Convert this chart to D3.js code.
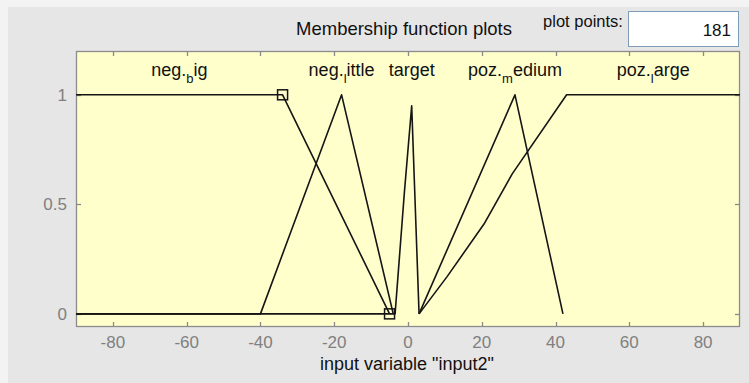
<!DOCTYPE html>
<html>
<head>
<meta charset="utf-8">
<script src="https://cdn.jsdelivr.net/npm/d3@7"></script>
<style>
  html, body { margin: 0; padding: 0; background: #e6e6e6; }
  svg { display: block; }
  text { font-family: "Liberation Sans", Arial, sans-serif; }
</style>
</head>
<body>
<svg id="chart" width="749" height="383"></svg>
<script>
// Input variable range and axis ticks
const xRange = [-90, 90];
const yRange = [-0.06, 1.2];
const xTicks = [-80, -60, -40, -20, 0, 20, 40, 60, 80];
const yTicks = [0, 0.5, 1];
const plotPoints = 181;

// Membership function names (TeX style: "_x" is a subscript)
const mfNames = ["neg._big", "neg._little", "target", "poz._medium", "poz._large"];

// Membership function vertices
const negBigX    = [-90, -34, -5];
const negBigY    = [1, 1, 0];
const negLittleX = [-90, -40, -18, -4];
const negLittleY = [0, 0, 1, 0];
const targetX    = [-90, -3.5, -1, 1, 3];
const targetY    = [0, 0, 0.55, 0.95, 0];
const pozMediumX = [3, 29, 42];
const pozMediumY = [0, 1, 0];
const pozLargeX  = [3, 10.6, 20.6, 28.3, 43, 90];
const pozLargeY  = [0, 0.17, 0.41, 0.64, 1, 1];

// Index of the currently selected membership function
const selectedMf = 0;

const mfX = [negBigX, negLittleX, targetX, pozMediumX, pozLargeX];
const mfY = [negBigY, negLittleY, targetY, pozMediumY, pozLargeY];

const svg = d3.select("#chart");
const W = 749, H = 383;

// Panel background with a light bevel along the top and left edges
svg.append("rect").attr("x", 0).attr("y", 0).attr("width", W).attr("height", H).attr("fill", "#f3f3f3");
svg.append("rect").attr("x", 8).attr("y", 7).attr("width", W - 8).attr("height", H - 7).attr("fill", "#e6e6e6");

const axLeft = 76, axRight = 740, axTop = 51, axBottom = 327;
const x = d3.scaleLinear().domain(xRange).range([axLeft, axRight]);
const y = d3.scaleLinear().domain(yRange).range([axBottom, axTop]);

// Title and plot points box
svg.append("text").attr("x", 404).attr("y", 35).attr("text-anchor", "middle")
  .attr("font-size", 18.5).attr("fill", "#111").text("Membership function plots");
svg.append("text").attr("x", 583).attr("y", 27).attr("text-anchor", "middle")
  .attr("font-size", 16.5).attr("fill", "#111").text("plot points:");
svg.append("rect").attr("x", 628.5).attr("y", 11.5).attr("width", 110).attr("height", 35)
  .attr("fill", "#ffffff").attr("stroke", "#7f9db9").attr("stroke-width", 1);
svg.append("text").attr("x", 731).attr("y", 36).attr("text-anchor", "end")
  .attr("font-size", 17).attr("fill", "#111").text(plotPoints);

// Axes area
svg.append("rect").attr("x", axLeft).attr("y", axTop).attr("width", axRight - axLeft).attr("height", axBottom - axTop)
  .attr("fill", "#ffffcc");

const tickColor = "#8a8a8a";
const tickLen = 5;
const g = svg.append("g");

// x ticks, top and bottom, pointing inward
xTicks.forEach(t => {
  const px = Math.round(x(t)) + 0.5;
  g.append("line").attr("x1", px).attr("x2", px).attr("y1", axBottom).attr("y2", axBottom - tickLen)
    .attr("stroke", tickColor).attr("stroke-width", 1.3);
  g.append("line").attr("x1", px).attr("x2", px).attr("y1", axTop).attr("y2", axTop + tickLen)
    .attr("stroke", tickColor).attr("stroke-width", 1.3);
  g.append("text").attr("x", x(t)).attr("y", 348).attr("text-anchor", "middle")
    .attr("font-size", 17).attr("fill", "#808080").text(t);
});

// y ticks, left and right
yTicks.forEach(t => {
  const py = Math.round(y(t)) + 0.5;
  g.append("line").attr("x1", axLeft).attr("x2", axLeft + tickLen).attr("y1", py).attr("y2", py)
    .attr("stroke", tickColor).attr("stroke-width", 1.3);
  g.append("line").attr("x1", axRight).attr("x2", axRight - tickLen).attr("y1", py).attr("y2", py)
    .attr("stroke", tickColor).attr("stroke-width", 1.3);
  g.append("text").attr("x", 67).attr("y", y(t) + 6).attr("text-anchor", "end")
    .attr("font-size", 17).attr("fill", "#808080").text(t);
});

// Axes border
svg.append("rect").attr("x", axLeft + 0.5).attr("y", axTop + 0.5)
  .attr("width", axRight - axLeft - 1).attr("height", axBottom - axTop - 1)
  .attr("fill", "none").attr("stroke", "#8c8c8c").attr("stroke-width", 1.3);

// Axis label
svg.append("text").attr("x", 407).attr("y", 370).attr("text-anchor", "middle")
  .attr("font-size", 18).attr("fill", "#111").text('input variable "input2"');

// Membership function curves
const line = d3.line().x(d => x(d[0])).y(d => y(d[1]));
mfX.forEach((xs, i) => {
  const pts = xs.map((v, j) => [v, mfY[i][j]]);
  svg.append("path").attr("d", line(pts)).attr("fill", "none")
    .attr("stroke", "#151515").attr("stroke-width", 1.6).attr("stroke-linejoin", "round");
});

// Vertex markers of the selected membership function
{
  const xs = mfX[selectedMf], ys = mfY[selectedMf];
  xs.forEach((v, j) => {
    if (v === xRange[0] || v === xRange[1]) return;
    svg.append("rect").attr("x", x(v) - 5).attr("y", y(ys[j]) - 5).attr("width", 10).attr("height", 10)
      .attr("fill", "none").attr("stroke", "#151515").attr("stroke-width", 1.5);
  });
}

// Function names, centred over each peak or plateau
mfNames.forEach((name, i) => {
  const xs = mfX[i], ys = mfY[i];
  const peak = d3.max(ys);
  const atPeak = xs.filter((v, j) => ys[j] === peak);
  const cx = (d3.min(atPeak) + d3.max(atPeak)) / 2;
  const t = svg.append("text").attr("x", x(cx)).attr("y", 76).attr("text-anchor", "middle")
    .attr("font-size", 18).attr("fill", "#111");
  const parts = name.split("_");
  t.append("tspan").text(parts[0]);
  if (parts.length > 1) {
    t.append("tspan").attr("dy", 7).attr("font-size", 13).text(parts[1][0]);
    t.append("tspan").attr("dy", -7).text(parts[1].slice(1));
  }
});
</script>
</body>
</html>
